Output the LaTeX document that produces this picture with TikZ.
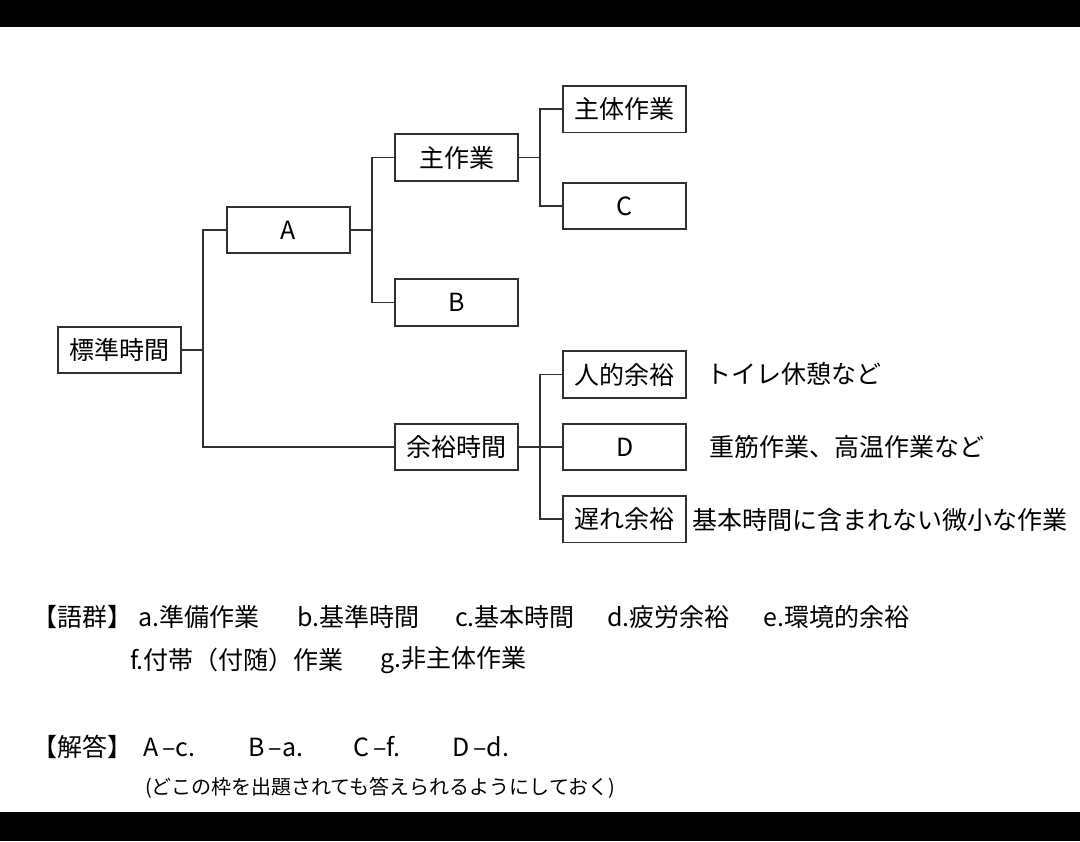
\documentclass[tikz,border=0pt]{standalone}
\usepackage{fontspec}
\setmainfont{Noto Sans CJK JP}
\definecolor{linegray}{HTML}{303030}

\begin{document}
\begin{tikzpicture}[x=1pt, y=-1pt,
        box/.style={draw=linegray, line width=1.7pt, minimum width=123pt, minimum height=46.5pt, inner sep=0pt, font=\fontsize{25}{30}\selectfont},
        note/.style={anchor=west, inner sep=0pt, font=\fontsize{25}{30}\selectfont},
        small/.style={anchor=west, inner sep=0pt, font=\fontsize{20}{24}\selectfont},
        wire/.style={draw=linegray, line width=1.7pt}]
            %\draw[help lines, step=50] (0, 0) grid (1080, 842);
            \useasboundingbox (0, 0) rectangle (1080, 842);
            \fill[white] (0, 0) rectangle (1080, 842);
            \fill[black] (0, 0) rectangle (1080, 27);
            \fill[black] (0, 812) rectangle (1080, 841);

            \node[box](std) at (119.8, 350) {標準時間};
            \node[box](A) at (288.3, 230) {A};
            \node[box](main) at (456.5, 157.5) {主作業};
            \node[box](B) at (456.5, 302.5) {B};
            \node[box](allow) at (456.5, 447) {余裕時間};
            \node[box](body) at (624.8, 109.3) {主体作業};
            \node[box](C) at (624.8, 206) {C};
            \node[box](human) at (624.8, 374.5) {人的余裕};
            \node[box](D) at (624.8, 447) {D};
            \node[box](delay) at (624.8, 519.3) {遅れ余裕};

            \draw[wire] (std.east) -- ++(21, 0) |- (A.west);
            \draw[wire] (std.east) -- ++(21, 0) |- (allow.west);
            \draw[wire] (A.east) -- ++(21, 0) |- (main.west);
            \draw[wire] (A.east) -- ++(21, 0) |- (B.west);
            \draw[wire] (main.east) -- ++(21, 0) |- (body.west);
            \draw[wire] (main.east) -- ++(21, 0) |- (C.west);
            \draw[wire] (allow.east) -- ++(21, 0) |- (human.west);
            \draw[wire] (allow.east) -- (D.west);
            \draw[wire] (allow.east) -- ++(21, 0) |- (delay.west);

            \node[note](humannote) at (706, 374) {トイレ休憩など};
            \node[note](Dnote) at (709, 447.5) {重筋作業、高温作業など};
            \node[note](delaynote) at (692.7, 520) {基本時間に含まれない微小な作業};

            % word list
            \node[note](grp) at (32, 617) {【語群】};
            \node[note](grpa) at (138, 617) {a.準備作業};
            \node[note](grpb) at (297, 617) {b.基準時間};
            \node[note](grpc) at (455, 617) {c.基本時間};
            \node[note](grpd) at (607, 617) {d.疲労余裕};
            \node[note](grpe) at (763, 617) {e.環境的余裕};
            \node[note](grpf) at (130, 660) {f.付帯（付随）作業};
            \node[note](grpg) at (380, 660) {g.非主体作業};

            % answers
            \node[note](ans) at (32, 747) {【解答】};
            \node[note](ansA) at (143, 747) {A\,–c.};
            \node[note](ansB) at (248, 747) {B\,–a.};
            \node[note](ansC) at (353, 747) {C\,–f.};
            \node[note](ansD) at (452, 747) {D\,–d.};
            \node[small](hint) at (145, 788) {(どこの枠を出題されても答えられるようにしておく)};
        \end{tikzpicture}
\end{document}
